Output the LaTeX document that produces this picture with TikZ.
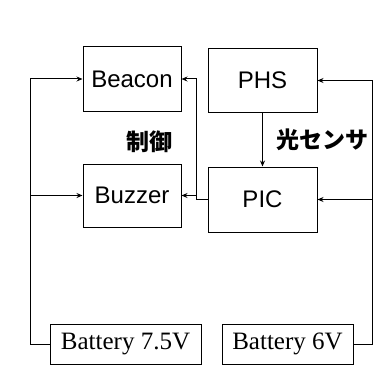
\documentclass[tikz,border=0pt]{standalone}
\usepackage{fontspec}
\setmainfont{Liberation Serif}
\newfontfamily\boxfont{Liberation Sans}
\newfontfamily\jpfont{Noto Sans CJK JP}
\usetikzlibrary{arrows.meta}
\begin{document}
\begin{tikzpicture}[x=1pt,y=-1pt,
  blk/.style={draw,line width=1pt,inner sep=0pt,font=\boxfont\fontsize{24}{24}\selectfont},
  bat/.style={draw,line width=1pt,inner sep=0pt,font=\fontsize{25}{25}\selectfont},
  wire/.style={line width=1pt},
  arr/.style={wire,-{Stealth[length=6pt,width=5pt]}},
  jp/.style={font=\jpfont\bfseries\fontsize{23}{23}\selectfont}]
\useasboundingbox (0,0) rectangle (383,369);
\node[blk,minimum width=98pt,minimum height=64pt] (beacon) at (132,79) {Beacon};
\node[blk,minimum width=98pt,minimum height=63pt] (buzzer) at (132,195.5) {Buzzer};
\node[blk,minimum width=109pt,minimum height=63pt] (phs) at (262.5,80.5) {PHS};
\node[blk,minimum width=109pt,minimum height=65pt] (pic) at (262.5,199.5) {PIC};
\node[bat,minimum width=151pt,minimum height=40pt] (bat75) at (125.5,344) {Battery 7.5V};
\node[bat,minimum width=131pt,minimum height=40pt] (bat6) at (287.5,344) {Battery 6V};
\coordinate (L) at (30,0);
\coordinate (R) at (372,0);
\coordinate (M) at (196,0);
\draw[arr] (bat75.west) -- (bat75.west -| L) |- (beacon.west);
\draw[arr] (L |- buzzer.west) -- (buzzer.west);
\draw[arr] (bat6.east) -- (bat6.east -| R) |- (phs.east);
\draw[arr] (R |- pic.east) -- (pic.east);
\draw[arr] (pic.west) -- (pic.west -| M) |- (beacon.east);
\draw[arr] (M |- buzzer.east) -- (buzzer.east);
\draw[arr] (phs.south) -- (pic.north);
\node[jp] (ctrl) at (149,142) {制御};
\node[jp] (sensor) at (322,140) {光センサ};
\end{tikzpicture}
\end{document}
